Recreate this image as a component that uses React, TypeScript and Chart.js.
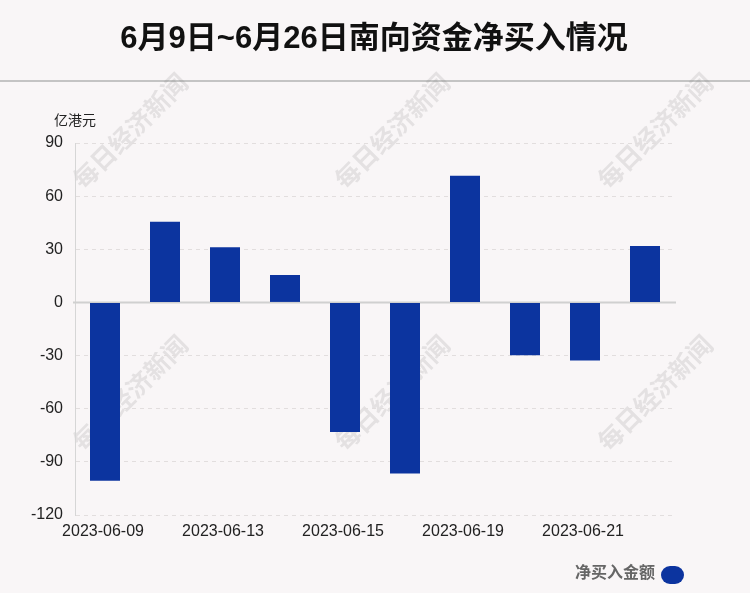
import React, { useEffect, useRef } from "react";
import { Chart, registerables } from "chart.js";

Chart.register(...registerables);

const titleText = "6月9日~6月26日南向资金净买入情况";
const unitLabel = "亿港元";
const seriesName = "净买入金额";
const watermarkText = "每日经济新闻";

const categories = [
  "2023-06-09",
  "2023-06-12",
  "2023-06-13",
  "2023-06-14",
  "2023-06-15",
  "2023-06-16",
  "2023-06-19",
  "2023-06-20",
  "2023-06-21",
  "2023-06-26",
];
const netBuy = [-100.6, 45.6, 31.1, 15.5, -73.2, -96.6, 71.5, -29.8, -32.8, 31.9];
const yTicks = [-120, -90, -60, -30, 0, 30, 60, 90];

const BAR_COLOR = "#0c349f";
const BG = "#f9f6f7";
const CJK = '"Liberation Sans", "Noto Sans CJK SC", sans-serif';

const decorPlugin = {
  id: "decor",
  beforeDraw(chart: any) {
    const ctx = chart.ctx;
    const w = chart.width;
    ctx.save();
    ctx.fillStyle = BG;
    ctx.fillRect(0, 0, w, chart.height);
    // title
    ctx.fillStyle = "#111";
    ctx.font = `bold 31px ${CJK}`;
    ctx.textAlign = "center";
    ctx.textBaseline = "middle";
    ctx.fillText(titleText, w / 2 - 1, 39);
    // separator line
    ctx.strokeStyle = "#c4c4c4";
    ctx.lineWidth = 2;
    ctx.beginPath();
    ctx.moveTo(0, 81);
    ctx.lineTo(w, 81);
    ctx.stroke();
    // watermarks
    ctx.fillStyle = "rgba(120,120,120,0.16)";
    ctx.font = `bold 25px "Noto Sans CJK SC", sans-serif`;
    const xs = [130, 392, 655];
    const ys = [131, 393];
    for (const y of ys) {
      for (const x of xs) {
        ctx.save();
        ctx.translate(x, y);
        ctx.rotate(-Math.PI / 4);
        ctx.fillText(watermarkText, 0, 0);
        ctx.restore();
      }
    }
    // unit label
    ctx.fillStyle = "#222";
    ctx.font = `14px ${CJK}`;
    ctx.textAlign = "left";
    ctx.fillText(unitLabel, 54, 121);
    // legend
    ctx.fillStyle = "#666";
    ctx.font = `bold 16px ${CJK}`;
    ctx.textAlign = "right";
    ctx.fillText(seriesName, 655, 574);
    ctx.fillStyle = BAR_COLOR;
    ctx.beginPath();
    (ctx as any).roundRect(661, 566, 23, 18, 9);
    ctx.fill();
    ctx.restore();
  },
  beforeDatasetsDraw(chart: any) {
    const ctx = chart.ctx;
    const y0 = chart.scales.y.getPixelForValue(0);
    ctx.save();
    ctx.strokeStyle = "#d0d0d0";
    ctx.lineWidth = 2;
    ctx.beginPath();
    ctx.moveTo(chart.chartArea.left - 2, y0);
    ctx.lineTo(chart.chartArea.right + 1, y0);
    ctx.stroke();
    ctx.restore();
  },
};

export default function App() {
  const ref = useRef<HTMLCanvasElement>(null);
  useEffect(() => {
    document.body.style.margin = "0";
    const chart = new Chart(ref.current as HTMLCanvasElement, {
      type: "bar",
      data: {
        labels: categories,
        datasets: [
          {
            label: seriesName,
            data: netBuy,
            backgroundColor: BAR_COLOR,
            barPercentage: 0.5,
            categoryPercentage: 1.0,
          },
        ],
      },
      options: {
        animation: false,
        responsive: false,
        layout: { padding: { left: 0, right: 75, top: 143, bottom: 0 } },
        plugins: { legend: { display: false }, tooltip: { enabled: false }, title: { display: false } },
        scales: {
          x: {
            grid: { display: false, drawTicks: false },
            border: { display: false },
            ticks: {
              autoSkip: false,
              maxRotation: 0,
              padding: 7,
              labelOffset: -2,
              color: "#222",
              font: { size: 16, family: "Liberation Sans" },
              callback: (_v: any, i: number) => (i % 2 === 0 ? categories[i] : ""),
            },
            afterFit: (s: any) => {
              s.height = 78;
            },
          },
          y: {
            min: yTicks[0],
            max: yTicks[yTicks.length - 1],
            afterBuildTicks: (s: any) => {
              s.ticks = yTicks.map((v) => ({ value: v }));
            },
            grid: {
              drawTicks: false,
              color: (c: any) => (c.tick && c.tick.value === 0 ? "rgba(0,0,0,0)" : "#e2dede"),
              lineWidth: 1,
            },
            border: { display: true, color: "#d6d6d6", width: 1, dash: [4, 4] },
            ticks: {
              padding: 12,
              color: "#222",
              font: { size: 16, family: "Liberation Sans" },
            },
            afterFit: (s: any) => {
              s.width = 75;
            },
          },
        },
      },
      plugins: [decorPlugin],
    });
    return () => chart.destroy();
  }, []);
  return <canvas ref={ref} width={750} height={593} style={{ display: "block" }} />;
}
